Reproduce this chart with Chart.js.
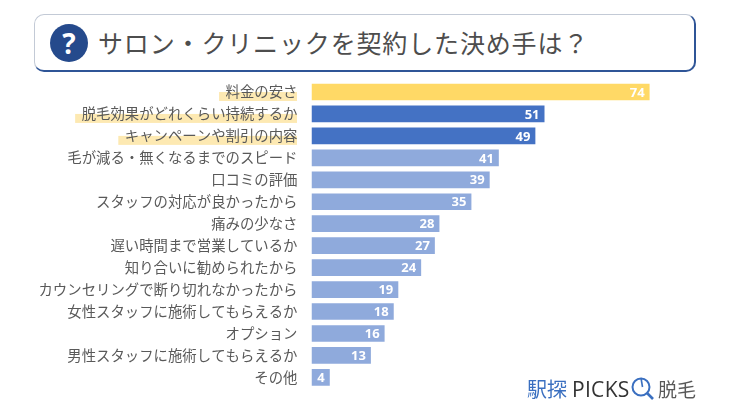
<!DOCTYPE html>
<html lang="ja">
<head>
<meta charset="utf-8">
<title>サロン・クリニックを契約した決め手は？</title>
<script src="https://cdn.jsdelivr.net/npm/chart.js@4"></script>
<style>
  html, body { margin: 0; padding: 0; background: #fff; }
  body { width: 730px; height: 411px; position: relative; overflow: hidden; font-family: "Noto Sans CJK JP", sans-serif; }
  #wrap { position: absolute; left: 0; top: 0; width: 730px; height: 411px; }
  #titleBox {
    position: absolute; left: 34px; top: 14px; width: 659px; height: 55px;
    border: 1px solid #c3cad6; border-right: 2px solid #2f5597; border-bottom: 2px solid #2f5597;
    border-radius: 10px; background: #fff;
  }
  #badge {
    position: absolute; left: 50px; top: 24px; width: 38px; height: 38px; border-radius: 50%;
    background: #254a8c; color: #fff; font: bold 28px/38px "Noto Sans", sans-serif; text-align: center;
  }
  #title {
    position: absolute; left: 98px; top: 23px; font-size: 25px; line-height: 38px; color: #4d4d4d;
    letter-spacing: 0.85px; white-space: nowrap;
  }
  #logo { position: absolute; left: 527px; top: 375px; height: 28px; line-height: 28px; white-space: nowrap; font-size: 20px; }
  #logo .a { color: #3a6fc0; }
  #logo .b { color: #333; font-family: "Open Sans", sans-serif; font-size: 21px; margin-left: 5px; letter-spacing: 0.3px; }
  #logo .c { color: #595959; position: absolute; left: 131px; top: 0; font-size: 19px; }
  #logo svg { position: absolute; left: 103px; top: -1px; }
</style>
</head>
<body>
<div id="wrap"><canvas id="chart" width="730" height="411"></canvas></div>
<div id="titleBox"></div>
<div id="badge">?</div>
<div id="title">サロン・クリニックを契約した決め手は？</div>
<div id="logo">
  <span class="a">駅探</span><span class="b">PICKS</span>
  <svg width="24" height="26" viewBox="0 0 24 26">
    <circle cx="11" cy="13" r="8.5" fill="none" stroke="#3a6fc0" stroke-width="2"/>
    <line x1="11" y1="4" x2="12.5" y2="13" stroke="#3a6fc0" stroke-width="1.6"/>
    <line x1="17" y1="19" x2="23" y2="25" stroke="#3a6fc0" stroke-width="2.6"/>
  </svg>
  <span class="c">脱毛</span>
</div>

<script>
// Data
const categories = [
  "料金の安さ",
  "脱毛効果がどれくらい持続するか",
  "キャンペーンや割引の内容",
  "毛が減る・無くなるまでのスピード",
  "口コミの評価",
  "スタッフの対応が良かったから",
  "痛みの少なさ",
  "遅い時間まで営業しているか",
  "知り合いに勧められたから",
  "カウンセリングで断り切れなかったから",
  "女性スタッフに施術してもらえるか",
  "オプション",
  "男性スタッフに施術してもらえるか",
  "その他"
];
const values = [74, 51, 49, 41, 39, 35, 28, 27, 24, 19, 18, 16, 13, 4];
const barColors = ["#ffd966", "#4472c4", "#4472c4", "#8faadc", "#8faadc", "#8faadc", "#8faadc",
  "#8faadc", "#8faadc", "#8faadc", "#8faadc", "#8faadc", "#8faadc", "#8faadc"];
const highlighted = [0, 1, 2];

const labelFont = '14.4px "Noto Sans CJK JP", sans-serif';

// Yellow marker stripe behind the top three labels, drawn before the axes
const markerPlugin = {
  id: "marker",
  beforeDraw(chart) {
    const ctx = chart.ctx;
    const yScale = chart.scales.y;
    ctx.save();
    ctx.font = labelFont;
    ctx.fillStyle = "#fde9b2";
    highlighted.forEach((i) => {
      const w = ctx.measureText(categories[i]).width;
      const y = yScale.getPixelForValue(i);
      ctx.fillRect(297 - w - 6, y, w + 6, 9);
    });
    ctx.restore();
  }
};

// Value inside the end of each bar
const valuePlugin = {
  id: "values",
  afterDatasetsDraw(chart) {
    const ctx = chart.ctx;
    const bars = chart.getDatasetMeta(0).data;
    ctx.save();
    ctx.font = 'bold 13px "Open Sans", sans-serif';
    ctx.fillStyle = "#ffffff";
    ctx.textAlign = "right";
    ctx.textBaseline = "middle";
    bars.forEach((bar, i) => {
      ctx.fillText(values[i], bar.x - 5, bar.y + 1);
    });
    ctx.restore();
  }
};

new Chart(document.getElementById("chart"), {
  type: "bar",
  data: {
    labels: categories,
    datasets: [{
      data: values,
      backgroundColor: barColors,
      categoryPercentage: 1,
      barPercentage: 0.76
    }]
  },
  plugins: [markerPlugin, valuePlugin],
  options: {
    indexAxis: "y",
    responsive: false,
    animation: false,
    layout: { padding: { top: 81, bottom: 22, left: 0, right: 53 } },
    plugins: { legend: { display: false }, tooltip: { enabled: false } },
    scales: {
      x: { display: false, min: 0, max: 80 },
      y: {
        afterFit(scale) { scale.width = 311.5; },
        grid: { display: false, drawTicks: false },
        border: { display: false },
        ticks: {
          color: "#595959",
          padding: 14,
          autoSkip: false,
          font: { family: '"Noto Sans CJK JP", sans-serif', size: 14.4 }
        }
      }
    }
  }
});
</script>
</body>
</html>
